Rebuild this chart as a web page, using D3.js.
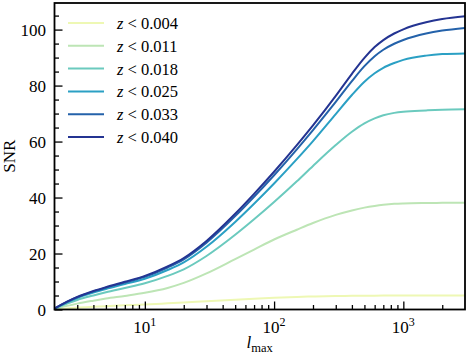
<!DOCTYPE html>
<html><head><meta charset="utf-8">
<script src="https://cdn.jsdelivr.net/npm/d3@7"></script>
<style>
body{margin:0;background:#fff;}
text{font-family:"Liberation Serif","Times New Roman",serif;}
</style></head>
<body><svg id="c" width="469" height="355"></svg>
<script>
const lValues = [2, 2.5, 3, 4, 5, 7, 10, 15, 20, 30, 50, 70, 100, 150, 200, 300, 400, 500, 600, 700, 850, 1000, 1500, 2000, 3000];
const zCuts = ["0.004","0.011","0.018","0.025","0.033","0.040"];
const snr004 = [0.05,0.4,0.7,1.0,1.2,1.5,1.8,2.2,2.5,2.95,3.5,3.85,4.2,4.5,4.65,4.8,4.87,4.92,4.95,4.97,4.99,5.0,5.0,5.0,5.0];
const snr011 = [0.15,1.3,2.1,3.15,3.9,4.85,5.95,7.7,9.5,12.9,18.0,21.4,25.0,28.5,30.9,33.8,35.4,36.4,37.0,37.4,37.75,37.9,38.05,38.1,38.1];
const snr018 = [0.27,2.13,3.42,5.02,6.16,7.67,9.36,12.0,14.35,19.11,26.68,32.21,38.38,45.79,51.29,58.75,63.5,66.5,68.3,69.4,70.25,70.68,71.12,71.35,71.5];
const snr025 = [0.33,2.56,4.12,6.04,7.32,9.06,10.98,14.1,16.84,22.42,31.29,37.79,45.02,53.71,60.16,69.81,76.62,81.36,84.38,86.34,88.05,89.19,90.7,91.24,91.49];
const snr033 = [0.35,2.73,4.39,6.44,7.8,9.65,11.7,15.0,17.94,23.89,33.35,40.27,47.97,57.23,64.11,74.16,81.59,86.93,90.47,92.79,94.95,96.3,98.6,99.65,100.6];
const snr040 = [0.36,2.8,4.5,6.6,8.0,9.9,12.0,15.4,18.4,24.5,34.2,41.3,49.2,58.7,65.75,76.3,84.2,89.9,93.75,96.25,98.6,100.1,102.6,103.8,104.8];
const seriesValues = [snr004, snr011, snr018, snr025, snr033, snr040];
const xMajorTicks = [10, 100, 1000];
const xTickExps = ["1","2","3"];
const yTicks = [0, 20, 40, 60, 80, 100];

const colors = ["#eef8b4","#bde5b5","#6bcabe","#2ba0c4","#2462aa","#243492"];

const svg = d3.select("#c");
const m = {l:54.5, r:465, t:3, b:309.5};
const x = d3.scaleLog().domain([2, 3000]).range([m.l, m.r]);
const y = d3.scaleLinear().domain([0, 109.5]).range([m.b, m.t]);

// curves
const line = d3.line().x(d=>x(d[0])).y(d=>y(d[1])).curve(d3.curveMonotoneX);
svg.append("clipPath").attr("id","cp").append("rect")
  .attr("x",m.l).attr("y",m.t).attr("width",m.r-m.l).attr("height",m.b-m.t);
const g = svg.append("g").attr("clip-path","url(#cp)");
seriesValues.forEach((vals,i)=>{
  g.append("path").datum(lValues.map((l,j)=>[l, vals[j]]))
   .attr("d", line).attr("fill","none").attr("stroke",colors[i]).attr("stroke-width",2);
});

// x axis minor & major ticks (inward)
const xMinor = [];
[1,10,100,1000].forEach(dec=>{ for(let k=2;k<=9;k++){ const v=dec*k; if(v>2 && v<3000 && !xMajorTicks.includes(v)) xMinor.push(v);} });
const xAxisMinor = d3.axisBottom(x).tickValues(xMinor).tickSize(-4.5).tickFormat("");
const xAxisMajor = d3.axisBottom(x).tickValues(xMajorTicks).tickSize(-8).tickFormat("");
[xAxisMinor, xAxisMajor].forEach(ax=>{
  const a = svg.append("g").attr("transform",`translate(0,${m.b})`).call(ax);
  a.select(".domain").remove();
  a.selectAll("line").attr("stroke","#000").attr("stroke-width",1.3);
});
xMajorTicks.forEach((v,i)=>{
  const t = svg.append("text").attr("x", x(v)).attr("y", 333).attr("text-anchor","middle").attr("font-size",17);
  t.append("tspan").text("10");
  t.append("tspan").attr("dy",-7).attr("font-size",12).text(xTickExps[i]);
});

// y axis
const yMinor = d3.range(5, 109, 5).filter(v=>v%20!==0);
const yAxisMinor = d3.axisLeft(y).tickValues(yMinor).tickSize(-4.5).tickFormat("");
const yAxisMajor = d3.axisLeft(y).tickValues(yTicks).tickSize(-8).tickFormat("");
[yAxisMinor, yAxisMajor].forEach(ax=>{
  const a = svg.append("g").attr("transform",`translate(${m.l},0)`).call(ax);
  a.select(".domain").remove();
  a.selectAll("line").attr("stroke","#000").attr("stroke-width",1.3);
});
yTicks.forEach(v=>{
  svg.append("text").attr("x",46).attr("y",y(v)+6).attr("text-anchor","end").attr("font-size",17).text(v);
});

// frame
svg.append("rect").attr("x",m.l).attr("y",m.t).attr("width",m.r-m.l).attr("height",m.b-m.t)
  .attr("fill","none").attr("stroke","#000").attr("stroke-width",1.8);

// axis labels
const xl = svg.append("text").attr("x",(m.l+m.r)/2).attr("y",348).attr("text-anchor","middle").attr("font-size",17);
xl.append("tspan").attr("font-style","italic").text("l");
xl.append("tspan").attr("dy",4).attr("font-size",12.5).text("max");
svg.append("text").attr("transform",`translate(15,${(m.t+m.b)/2}) rotate(-90)`)
  .attr("text-anchor","middle").attr("font-size",17).text("SNR");

// legend
zCuts.forEach((zc,i)=>{
  const cy = 25 + i*22.8;
  svg.append("line").attr("x1",68).attr("x2",104).attr("y1",cy-2).attr("y2",cy-2)
    .attr("stroke",colors[i]).attr("stroke-width",2);
  const t = svg.append("text").attr("x",117).attr("y",cy+4).attr("font-size",16.5);
  t.append("tspan").attr("font-style","italic").text("z");
  t.append("tspan").text(" < " + zc);
});
</script></body></html>
